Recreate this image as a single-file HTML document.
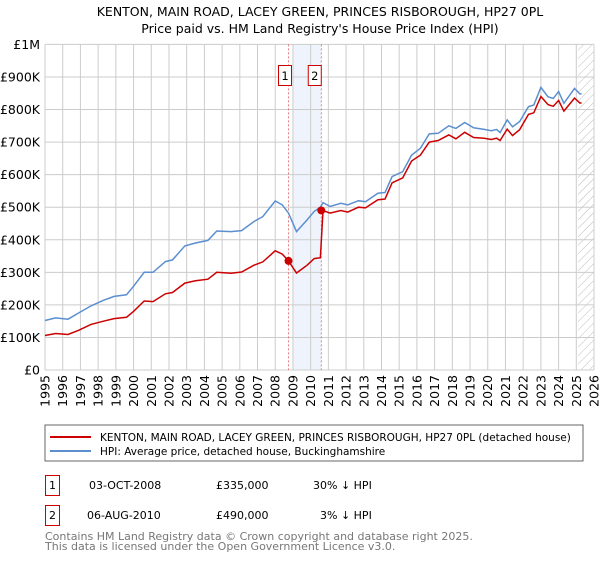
<!DOCTYPE html>
<html><head><meta charset="utf-8"><style>
body{margin:0;background:#fff;font-family:"Liberation Sans","DejaVu Sans",sans-serif}
svg text{font-family:"DejaVu Sans","Liberation Sans",sans-serif}
</style></head><body>
<svg id="c" width="600" height="560" viewBox="0 0 600 560" xmlns="http://www.w3.org/2000/svg">
<text x="320" y="16" text-anchor="middle" font-size="12.5">KENTON, MAIN ROAD, LACEY GREEN, PRINCES RISBOROUGH, HP27 0PL</text>
<text x="320" y="33" text-anchor="middle" font-size="12.5">Price paid vs. HM Land Registry's House Price Index (HPI)</text>
<g id="grid"></g><g id="marks"></g><g id="axes"></g>
<rect x="45" y="425" width="538" height="36" fill="#fff" stroke="#666"/>
<line x1="50" y1="437" x2="91" y2="437" stroke="#cc0000" stroke-width="2"/>
<text x="100" y="441" font-size="10.5">KENTON, MAIN ROAD, LACEY GREEN, PRINCES RISBOROUGH, HP27 0PL (detached house)</text>
<line x1="50" y1="451" x2="91" y2="451" stroke="#5b8fd0" stroke-width="2"/>
<text x="100" y="455" font-size="10.5">HPI: Average price, detached house, Buckinghamshire</text>
<rect x="45.5" y="475.5" width="14" height="20" fill="none" stroke="#cc0000"/>
<text x="52.5" y="489" text-anchor="middle" font-size="11">1</text>
<text x="89" y="489" font-size="11">03-OCT-2008</text>
<text x="216" y="489" font-size="11">£335,000</text>
<text x="313" y="489" font-size="11">30% ↓ HPI</text>
<rect x="45.5" y="505.5" width="14" height="20" fill="none" stroke="#cc0000"/>
<text x="52.5" y="519" text-anchor="middle" font-size="11">2</text>
<text x="87" y="519" font-size="11">06-AUG-2010</text>
<text x="216" y="519" font-size="11">£490,000</text>
<text x="320" y="519" font-size="11">3% ↓ HPI</text>
<text x="45" y="540" font-size="11" fill="#777">Contains HM Land Registry data © Crown copyright and database right 2025.</text>
<text x="45" y="550" font-size="11" fill="#777">This data is licensed under the Open Government Licence v3.0.</text>
</svg>
<script>
const hpiYears=[1995.0,1995.6,1996.3,1996.9,1997.6,1998.3,1998.9,1999.6,2000.0,2000.6,2001.1,2001.8,2002.2,2002.9,2003.5,2004.2,2004.7,2005.5,2006.1,2006.8,2007.3,2008.0,2008.4,2008.75,2009.2,2009.8,2010.2,2010.55,2010.7,2011.1,2011.7,2012.1,2012.7,2013.1,2013.8,2014.2,2014.6,2015.2,2015.7,2016.2,2016.7,2017.2,2017.8,2018.2,2018.7,2019.2,2019.8,2020.2,2020.5,2020.7,2021.1,2021.4,2021.8,2022.3,2022.6,2023.0,2023.4,2023.7,2024.0,2024.3,2024.9,2025.2,2025.3];
const hpiValues=[152,160,156,175,197,214,226,231,257,300,300,333,338,381,390,398,427,425,428,456,471,519,507,482,425,461,487,500,514,502,512,507,520,517,543,545,594,609,660,681,725,727,750,742,760,744,739,735,739,729,768,747,763,809,814,868,839,834,855,819,865,848,848];
const priceValues=[106,112,109,122,140,150,158,162,180,212,210,234,238,267,274,279,300,297,301,322,332,366,356,335,298,322,342,345,490,482,490,485,500,498,523,525,575,590,642,660,700,705,722,710,730,714,712,708,712,705,740,720,738,785,790,840,815,810,828,795,835,820,820];
const yTicks=[0,100,200,300,400,500,600,700,800,900,1000];
const yTickLabels=["£0","£100K","£200K","£300K","£400K","£500K","£600K","£700K","£800K","£900K","£1M"];
const xTicks=[1995,1996,1997,1998,1999,2000,2001,2002,2003,2004,2005,2006,2007,2008,2009,2010,2011,2012,2013,2014,2015,2016,2017,2018,2019,2020,2021,2022,2023,2024,2025,2026];
const saleYears=[2008.75,2010.6];
const salePrices=[335,490];
const saleLabels=["1","2"];
const NS="http://www.w3.org/2000/svg";
const X0=45,X1=594,Y0=370,Y1=44.4;
const x=y=>X0+(y-1995)/(2026-1995)*(X1-X0);
const yv=v=>Y0-v/1000*(Y0-Y1);
function mk(t,a,p){const e=document.createElementNS(NS,t);for(const k in a)e.setAttribute(k,a[k]);p.appendChild(e);return e;}
const grid=document.getElementById('grid'),marks=document.getElementById('marks'),axes=document.getElementById('axes');
const defs=mk('defs',{},grid);
const pat=mk('pattern',{id:'hatch',width:6,height:6,patternUnits:'userSpaceOnUse',patternTransform:'rotate(45)'},defs);
mk('line',{x1:0,y1:0,x2:0,y2:6,stroke:'#bbb','stroke-width':1},pat);
const band=mk('rect',{x:x(2009.0),y:Y1,width:x(saleYears[1])-x(2009.0),height:Y0-Y1,fill:'#eef3fc'},grid);


const fut=mk('rect',{x:x(2025.1),y:Y1,width:X1-x(2025.1),height:Y0-Y1,fill:'url(#hatch)'},grid);


yTicks.forEach((t,i)=>{
  const l=mk('line',{x1:X0,x2:X1,y1:yv(t),y2:yv(t),stroke:'#ccc','stroke-width':1},grid);
  
  
  const tx=mk('text',{x:40,y:yv(t)+4.5,'text-anchor':'end','font-size':12.5},axes);
  tx.textContent=yTickLabels[i];
  
  
});
xTicks.forEach(t=>{
  const l=mk('line',{x1:x(t),x2:x(t),y1:Y1,y2:Y0,stroke:'#ccc','stroke-width':1},grid);
  
  
  const tx=mk('text',{x:0,y:0,'text-anchor':'end','font-size':12.5,transform:`translate(${x(t)+4.5},${Y0+5}) rotate(-90)`},axes);
  tx.textContent=t;
  
  
});
saleYears.forEach((s,i)=>{
  const l=mk('line',{x1:x(s),x2:x(s),y1:Y1,y2:Y0,stroke:'#e06060','stroke-dasharray':'2,2','stroke-width':0.8},grid);
  
  
  const r=mk('rect',{x:x(s)-(i==0?10:13),y:65.5,width:13,height:20,fill:'#fff',stroke:'#cc0000'},marks);
  
  
  const t=mk('text',{x:x(s)-(i==0?3.5:6.5),y:80,'text-anchor':'middle','font-size':11.5},marks);
  t.textContent=saleLabels[i];
  
  
});
const pts=(ys,vs)=>ys.map((y,i)=>x(y).toFixed(1)+','+yv(vs[i]).toFixed(1)).join(' ');
const h=mk('polyline',{points:pts(hpiYears,hpiValues),fill:'none',stroke:'#5b8fd0','stroke-width':1.5},marks);


const p=mk('polyline',{points:pts(hpiYears,priceValues),fill:'none',stroke:'#cc0000','stroke-width':1.5},marks);


saleYears.forEach((s,i)=>{
  const c=mk('circle',{cx:x(s),cy:yv(salePrices[i]),r:4,fill:'#cc0000'},marks);
  
  
});
</script>
</body></html>
